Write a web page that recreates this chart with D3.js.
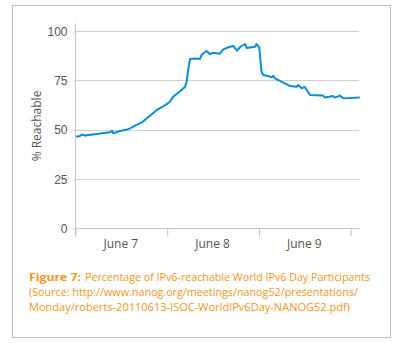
<!DOCTYPE html>
<html>
<head>
<meta charset="utf-8">
<script src="https://cdn.jsdelivr.net/npm/d3@7"></script>
<style>
  body { margin: 0; background: #fff; }
  svg { display: block; font-family: "Open Sans", "DejaVu Sans", sans-serif; }
  .grid line { stroke: #cfcfcf; stroke-width: 1; }
  .axis path, .axis line { stroke: #c4c4c4; }
  .axis text { fill: #555; font-size: 12px; }
  .caption { fill: #f5951f; font-size: 11px; }
</style>
</head>
<body>
<svg id="chart" width="400" height="345"></svg>
<script>
const WIDTH = 400;
const HEIGHT = 345;

// hours after June 7 00:00
const HOURS = [0.3, 1.3, 1.8, 2.6, 5.7, 6.5, 9.2, 9.7, 10.0, 11.8, 13.1, 14.4, 16.1, 17.4, 18.8, 20.1,
  21.4, 22.7, 24.0, 24.8, 25.7, 27.0, 27.9, 28.8, 29.2, 29.6, 30.1, 31.4, 32.7, 33.1, 33.6, 34.4,
  35.3, 36.2, 37.9, 38.8, 40.5, 41.4, 42.4, 43.3, 44.5, 44.9, 47.1, 47.5, 48.2, 48.8, 49.2, 50.5,
  51.4, 51.9, 52.3, 53.2, 54.9, 56.2, 58.0, 58.4, 59.3, 60.1, 61.5, 64.9, 65.4, 67.5, 68.0, 69.3,
  70.2, 74.5];
const REACHABLE = [46.3, 46.7, 47.5, 46.9, 47.7, 48.0, 48.6, 49.3, 48.1, 49.2, 49.7, 50.6, 52.3, 53.5, 55.7, 57.7,
  59.9, 61.3, 62.9, 64.1, 66.7, 68.7, 70.1, 71.7, 74.3, 80.2, 85.8, 86.1, 85.8, 87.8, 88.7, 89.8,
  88.3, 88.9, 88.5, 90.7, 92.0, 92.4, 90.0, 92.0, 93.4, 91.4, 92.0, 93.4, 91.7, 79.3, 77.7, 77.2,
  76.5, 77.2, 76.0, 75.1, 73.4, 72.1, 71.7, 72.6, 70.9, 71.6, 67.5, 67.2, 66.2, 67.0, 66.2, 67.2,
  65.8, 66.3];
const Y_TICKS = [0, 25, 50, 75, 100];
const DAY_LABELS = ["June 7", "June 8", "June 9"];
const CAPTION_LABEL = "Figure 7:";
const CAPTION_LINES = [
  "Percentage of IPv6-reachable World IPv6 Day Participants",
  "(Source: http://www.nanog.org/meetings/nanog52/presentations/",
  "Monday/roberts-20110613-ISOC-WorldIPv6Day-NANOG52.pdf)"
];

const start = new Date(2011, 5, 7);
const hourToDate = (h) => new Date(start.getTime() + h * 3600 * 1000);
const data = HOURS.map((h, i) => ({ t: hourToDate(h), v: REACHABLE[i] }));

const svg = d3.select("#chart");
const margin = { left: 75, right: 359, top: 31, bottom: 228 };

svg.append("rect")
  .attr("x", 12.5).attr("y", 5.5)
  .attr("width", 378).attr("height", 332)
  .attr("fill", "#fff")
  .attr("stroke", "#bdbdbd");

const x = d3.scaleTime()
  .domain([start, hourToDate(74.3)])
  .range([margin.left, margin.right]);
const y = d3.scaleLinear()
  .domain([0, 100])
  .range([margin.bottom, margin.top]);

// gridlines
svg.append("g")
  .attr("class", "grid")
  .selectAll("line")
  .data(Y_TICKS.filter((d) => d > 0))
  .join("line")
  .attr("x1", margin.left).attr("x2", margin.right)
  .attr("y1", (d) => Math.round(y(d)) + 0.5)
  .attr("y2", (d) => Math.round(y(d)) + 0.5);

// y axis
const yAxis = svg.append("g")
  .attr("class", "axis")
  .attr("transform", `translate(${margin.left + 0.5},0.5)`)
  .call(d3.axisLeft(y).tickValues(Y_TICKS).tickSize(2).tickPadding(6));
yAxis.select(".domain").attr("d", `M0,${margin.top - 8}V${margin.bottom + 7}`);

// x axis
const xAxis = svg.append("g")
  .attr("class", "axis")
  .attr("transform", `translate(0.5,${margin.bottom + 0.5})`)
  .call(d3.axisBottom(x).ticks(d3.timeDay.every(1)).tickSize(8).tickFormat(""));
xAxis.select(".domain").attr("d", `M${margin.left},0H${margin.right}`);

svg.append("g")
  .attr("class", "axis")
  .selectAll("text")
  .data(DAY_LABELS)
  .join("text")
  .attr("x", (d, i) => x(hourToDate(i * 24 + 12)))
  .attr("y", 248)
  .attr("text-anchor", "middle")
  .text((d) => d);

svg.append("text")
  .attr("class", "axis")
  .attr("transform", "translate(41,126) rotate(-90)")
  .attr("text-anchor", "middle")
  .attr("fill", "#555")
  .style("font-size", "12px")
  .text("% Reachable");

// series
const line = d3.line()
  .x((d) => x(d.t))
  .y((d) => y(d.v));

svg.append("path")
  .datum(data)
  .attr("fill", "none")
  .attr("stroke", "#0b8dd6")
  .attr("stroke-width", 2)
  .attr("stroke-linejoin", "round")
  .attr("d", line);

// caption
const caption = svg.append("g").attr("class", "caption");
caption.append("text")
  .attr("x", 29).attr("y", 281)
  .attr("font-weight", "bold")
  .attr("textLength", 52)
  .attr("lengthAdjust", "spacingAndGlyphs")
  .text(CAPTION_LABEL);

const captionX = [85, 29, 29];
const captionWidths = [285, 329, 321];
CAPTION_LINES.forEach((txt, i) => {
  caption.append("text")
    .attr("x", captionX[i])
    .attr("y", 281 + i * 15)
    .attr("textLength", captionWidths[i])
    .attr("lengthAdjust", "spacingAndGlyphs")
    .text(txt);
});
</script>
</body>
</html>
